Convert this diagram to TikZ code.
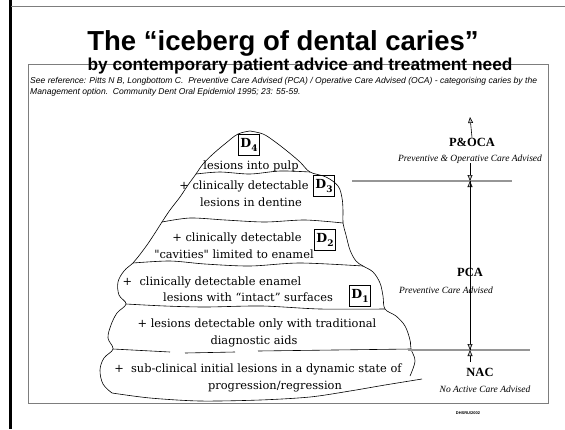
\documentclass[tikz,border=0pt]{standalone}
\usepackage{fontspec}
\setmainfont{Liberation Serif}
\setsansfont{Liberation Sans}
\newfontfamily\bergfont{DejaVu Serif}
\usepackage{tikz}
\usetikzlibrary{arrows.meta}
\definecolor{framegray}{RGB}{125,125,125}
\definecolor{levelgray}{RGB}{150,150,150}
\newcommand{\dlevel}[1]{D\raisebox{-0.3em}{\fontsize{9}{9}\selectfont #1}}

\begin{document}
\begin{tikzpicture}[x=1pt, y=-1pt,
  berg/.style={black, line width=0.6pt, line join=round},
  layer/.style={anchor=base, inner sep=0pt, font=\bergfont\fontsize{11.4}{13}\selectfont},
  dbox/.style={draw, line width=0.6pt, inner sep=1pt, minimum size=21pt, font=\bergfont\bfseries\fontsize{12.5}{14}\selectfont},
  care/.style={anchor=base, inner sep=0pt, font=\bfseries\fontsize{12.5}{14}\selectfont},
  careit/.style={anchor=base, inner sep=0pt, font=\itshape\fontsize{9.5}{11}\selectfont},
  level/.style={levelgray, line width=1.6pt},
  carearrow/.style={-{Triangle[length=6pt, width=5pt, fill=gray!45]}, line width=0.6pt}
]
\useasboundingbox (0,0) rectangle (565,429);

% frame
\draw[line width=3pt] (10,0) -- (10,429);
\draw[framegray, line width=0.8pt] (11,6) -- (565,6);
\draw[framegray, line width=0.6pt] (28,64) rectangle (548,403);

% headings
\node[anchor=base, font=\sffamily\bfseries\fontsize{27.5}{31}\selectfont] (title) at (283,50) {The “iceberg of dental caries”};
\node[anchor=base, font=\sffamily\bfseries\fontsize{17.3}{20}\selectfont] (subtitle) at (300,70) {by contemporary patient advice and treatment need};
\node[anchor=base west, inner sep=0pt, font=\sffamily\itshape\fontsize{8.55}{9}\selectfont] (ref1) at (30,83) {See reference: Pitts N B, Longbottom C.\ \ Preventive Care Advised (PCA) / Operative Care Advised (OCA) - categorising caries by the};
\node[anchor=base west, inner sep=0pt, font=\sffamily\itshape\fontsize{8.55}{9}\selectfont] (ref2) at (30,94) {Management option.\ \ Community Dent Oral Epidemiol 1995; 23: 55-59.};

% iceberg outline
\draw[berg] plot[smooth, tension=0.6] coordinates {(250,131) (238,134) (226,143) (213,154) (203,164) (196,174) (188,185) (180,197) (170,210) (162,222) (155,233) (147,245) (138,257) (133,263) (124,271) (118,282) (119,295) (126,304) (117,313) (111,325) (108,338) (113,349) (104,358) (100,370) (103,384) (112,393)};
\draw[berg] plot[smooth, tension=0.6] coordinates {(250,131) (263,134) (274,141) (287,151) (300,162) (310,172) (326,177) (338,186) (342,198) (343,211) (343,223) (346,235) (350,250) (356,261) (363,266) (373,272) (380,283) (383,296) (385,309) (396,316) (405,326) (410,340) (411,349) (415,361) (410,376)};
\draw[berg] plot[smooth] coordinates {(112,393) (150,398) (200,401) (260,400) (310,397) (350,391) (385,385) (422,379)};

% layer borders
\draw[berg] plot[smooth] coordinates {(196,174) (220,172) (250,174) (280,171) (310,172)};
\draw[berg] plot[smooth] coordinates {(162,222) (190,218) (225,220) (265,222) (305,220) (343,223)};
\draw[berg] plot[smooth] coordinates {(133,263) (170,261) (205,264) (250,266) (300,263) (363,266)};
\draw[berg] plot[smooth] coordinates {(126,304) (165,306) (205,307) (262,306) (320,309) (385,309)};
\draw[berg] (113,349) -- (170,352);
\draw[berg] (185,353) -- (235,352);
\draw[berg] (258,351) -- (411,349);

% layer texts
\node[layer] (l1) at (251,169) {lesions into pulp};
\node[layer] (l2a) at (244,189) {+ clinically detectable};
\node[layer] (l2b) at (251,206) {lesions in dentine};
\node[layer] (l3a) at (237,241) {+ clinically detectable};
\node[layer] (l3b) at (234,258) {"cavities" limited to enamel};
\node[layer] (l4a) at (212,285) {+ \ clinically detectable enamel};
\node[layer] (l4b) at (248,301) {lesions with “intact” surfaces};
\node[layer] (l5a) at (257,327) {+ lesions detectable only with traditional};
\node[layer] (l5b) at (254,344) {diagnostic aids};
\node[layer] (l6a) at (258,372) {+ \ sub-clinical initial lesions in a dynamic state of};
\node[layer] (l6b) at (275,389) {progression/regression};

% D boxes
\node[dbox] (d4) at (249,145) {\dlevel{4}};
\node[dbox] (d3) at (324,186) {\dlevel{3}};
\node[dbox] (d2) at (325,240) {\dlevel{2}};
\node[dbox] (d1) at (360,296) {\dlevel{1}};

% care levels
\draw[level] (352,181) -- (512,181);
\draw[level] (408,350) -- (530,350);
\coordinate (oca) at (470,181);
\coordinate (nac) at (470,350);
\coordinate (ocatop) at (470,117);
\coordinate (nacfoot) at (470,362);

\node[care] (poca) at (472,146) {P\&OCA};
\node[careit] (pocait) at (470,161) {Preventive \& Operative Care Advised};
\node[care] (pca) at (470,276) {PCA};
\node[careit] (pcait) at (446,293) {Preventive Care Advised};
\node[care] (nac lbl) at (480,376) {NAC};
\node[careit] (nacit) at (485,392) {No Active Care Advised};
\node[anchor=base, inner sep=0pt, font=\sffamily\bfseries\fontsize{4}{5}\selectfont] (stamp) at (468,414) {DHSRU/2002};

\draw[carearrow] (poca.north) -- (ocatop);
\draw[carearrow] (pocait.south) -- (oca);
\draw[carearrow] (nac) -- (oca);
\draw[carearrow] (oca) -- (nac);
\draw[carearrow] (nacfoot) -- (nac);
\end{tikzpicture}
\end{document}
